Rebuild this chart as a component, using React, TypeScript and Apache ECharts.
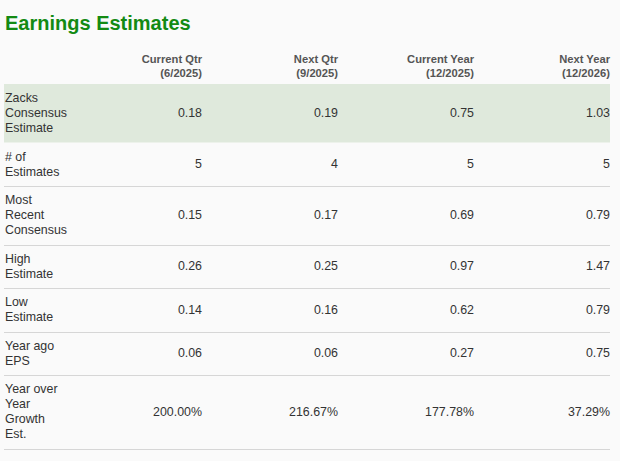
import { useEffect, useRef } from "react";
import * as echarts from "echarts";

const titleText = "Earnings Estimates";
const columnHeads = ["Current Qtr", "Next Qtr", "Current Year", "Next Year"];
const columnPeriods = ["(6/2025)", "(9/2025)", "(12/2025)", "(12/2026)"];
const rowLabels = [
  "Zacks\nConsensus\nEstimate",
  "# of\nEstimates",
  "Most\nRecent\nConsensus",
  "High\nEstimate",
  "Low\nEstimate",
  "Year ago\nEPS",
  "Year over\nYear\nGrowth\nEst."
];
const rowKinds = ["eps", "count", "eps", "eps", "eps", "eps", "pct"];
const currentQtr = [0.18, 5, 0.15, 0.26, 0.14, 0.06, 200.0];
const nextQtr = [0.19, 4, 0.17, 0.25, 0.16, 0.06, 216.67];
const currentYear = [0.75, 5, 0.69, 0.97, 0.62, 0.27, 177.78];
const nextYear = [1.03, 5, 0.79, 1.47, 0.79, 0.75, 37.29];

const columns = [currentQtr, nextQtr, currentYear, nextYear];

// layout (in axis units = pixels)
const LABEL_W = 62;
const COL_W = 136;
const TABLE_W = LABEL_W + COL_W * 4;
const LINE_H = 15;
const ROW_PAD = 13.5;
const HEAD_H = 40;
const FONT = "Arial";

const rowHeights = rowLabels.map((l) => ROW_PAD + LINE_H * l.split("\n").length);
const rowTops: number[] = [];
rowHeights.reduce((acc, h) => {
  rowTops.push(acc);
  return acc + h;
}, 0);
const TABLE_H = rowHeights.reduce((a, b) => a + b, 0);

function formatValue(v: number, kind: string) {
  if (kind === "count") return String(v);
  if (kind === "pct") return v.toFixed(2) + "%";
  return v.toFixed(2);
}

export default function App() {
  const chartRef = useRef<HTMLDivElement | null>(null);

  useEffect(() => {
    const el = chartRef.current;
    if (!el) return;
    const chart = echarts.init(el, null, { renderer: "svg" });

    chart.setOption({
      animation: false,
      backgroundColor: "#fafafa",
      textStyle: { fontFamily: FONT },
      title: {
        text: titleText,
        left: 5,
        top: 13,
        padding: 0,
        textStyle: { color: "#138a13", fontSize: 20, fontWeight: "bold", fontFamily: FONT }
      },
      grid: { left: 4, right: 620 - 4 - TABLE_W, top: 84 - HEAD_H, bottom: 461 - 84 - TABLE_H },
      xAxis: { type: "value", min: 0, max: TABLE_W, show: false },
      yAxis: { type: "value", inverse: true, min: -HEAD_H, max: TABLE_H, show: false },
      series: [
        {
          type: "custom",
          silent: true,
          data: columnHeads.map((_, c) => [c]),
          renderItem: (params: any, api: any) => {
            const c = api.value(0);
            const [x, y] = api.coord([LABEL_W + COL_W * (c + 1), -18.5]);
            return {
              type: "text",
              x,
              y,
              style: {
                text: columnHeads[c] + "\n" + columnPeriods[c],
                fill: "#555555",
                fontFamily: FONT,
                fontSize: 11.2,
                fontWeight: "bold",
                lineHeight: 14,
                align: "right",
                verticalAlign: "middle"
              }
            };
          }
        },
        {
          type: "custom",
          silent: true,
          data: rowLabels.map((_, i) => [i]),
          renderItem: (params: any, api: any) => {
            const i = api.value(0);
            const top = rowTops[i];
            const bottom = top + rowHeights[i];
            const [x0, y0] = api.coord([0, top]);
            const [x1, y1] = api.coord([TABLE_W, bottom]);
            const yc = (y0 + y1) / 2;
            const children: any[] = [];
            if (i === 0) {
              children.push({
                type: "rect",
                shape: { x: x0, y: y0, width: x1 - x0, height: y1 - y0 },
                style: { fill: "#dfe9dc" }
              });
            } else {
              const ly = Math.round(y1) + 0.5;
              children.push({
                type: "line",
                shape: { x1: x0, y1: ly, x2: x1, y2: ly },
                style: { stroke: "#d6d6d6", lineWidth: 1 }
              });
            }
            children.push({
              type: "text",
              x: x0 + 1,
              y: yc,
              style: {
                text: rowLabels[i],
                fill: "#333333",
                fontFamily: FONT,
                fontSize: 12.4,
                lineHeight: LINE_H,
                align: "left",
                verticalAlign: "middle"
              }
            });
            columns.forEach((col, c) => {
              const [xr] = api.coord([LABEL_W + COL_W * (c + 1), bottom]);
              children.push({
                type: "text",
                x: xr,
                y: yc,
                style: {
                  text: formatValue(col[i], rowKinds[i]),
                  fill: "#333333",
                  fontFamily: FONT,
                  fontSize: 12.4,
                  align: "right",
                  verticalAlign: "middle"
                }
              });
            });
            return { type: "group", children };
          }
        }
      ]
    });

    return () => {
      chart.dispose();
    };
  }, []);

  return (
    <div
      ref={chartRef}
      style={{ position: "absolute", left: 0, top: 0, width: 620, height: 461 }}
    />
  );
}
